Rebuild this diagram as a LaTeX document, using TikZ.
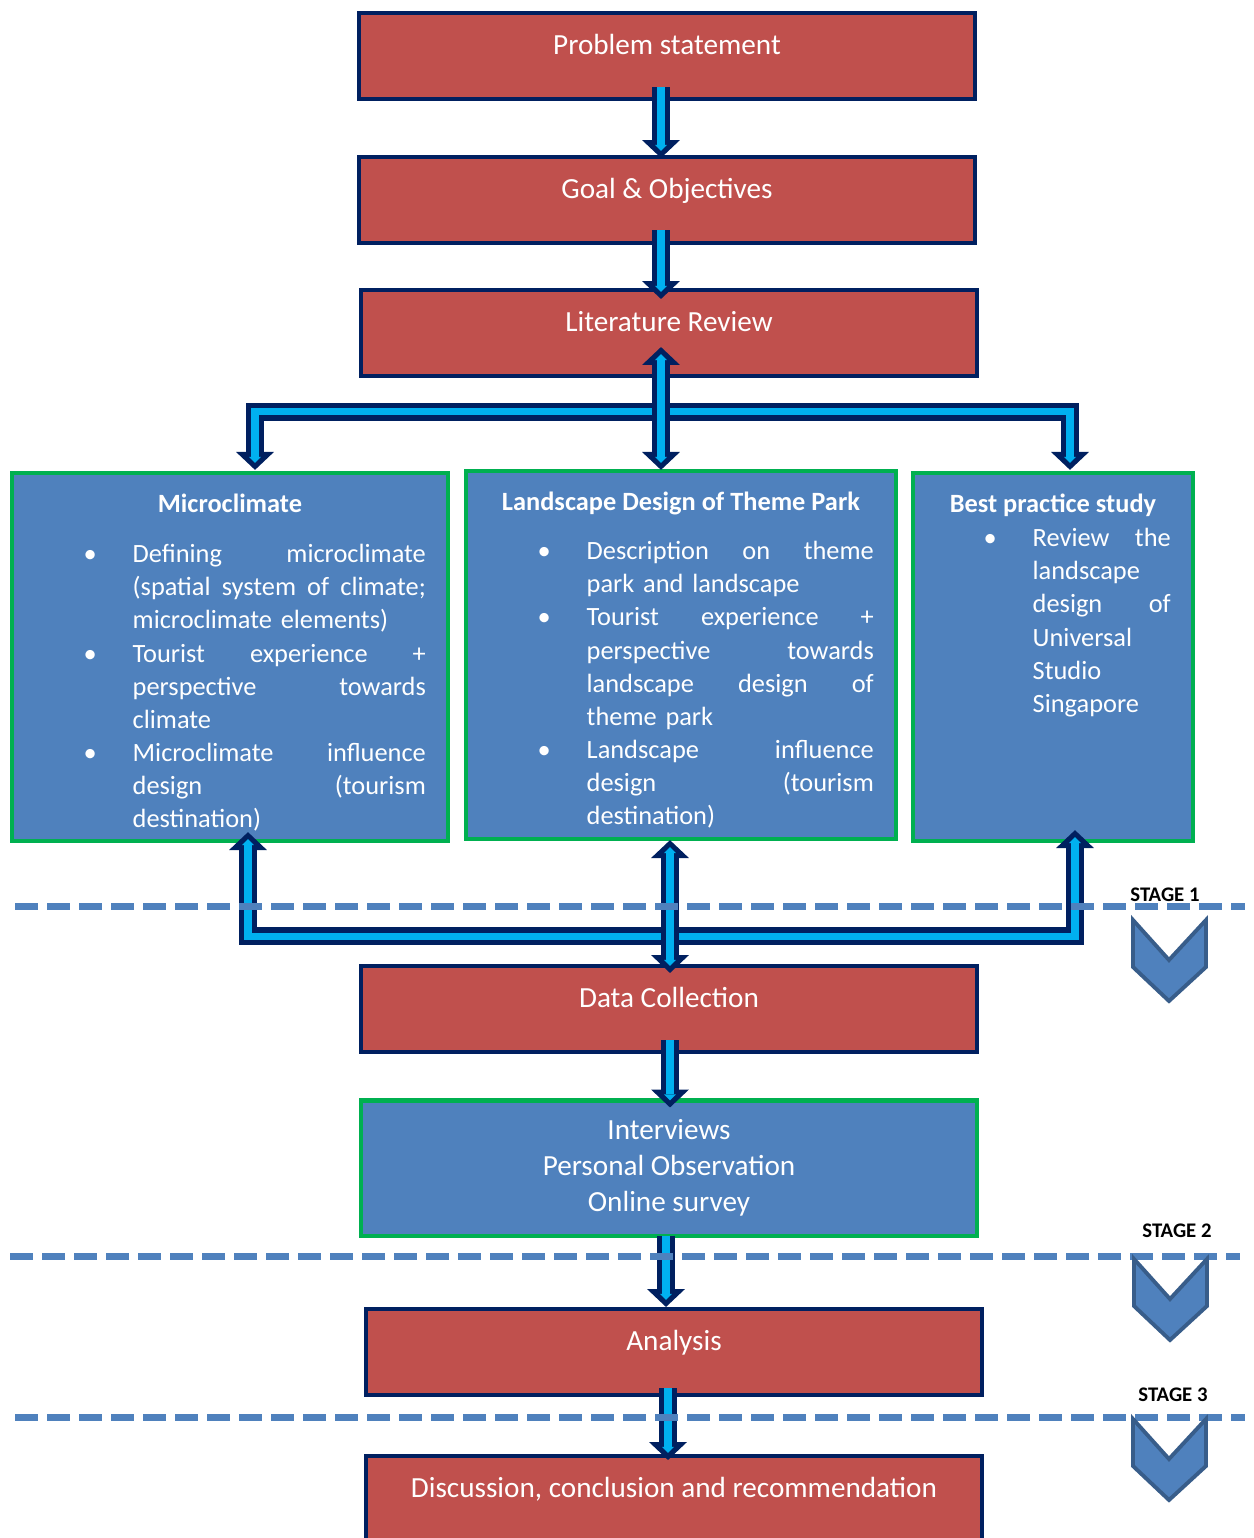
\documentclass[tikz,border=0pt]{standalone}
\usepackage{fontspec}
\setmainfont{Carlito}
\usetikzlibrary{arrows.meta, calc}
\definecolor{boxred}{HTML}{C0504D}
\definecolor{navy}{HTML}{002060}
\definecolor{boxblue}{HTML}{4F81BD}
\definecolor{edgegreen}{HTML}{00B050}
\definecolor{pipecyan}{HTML}{00B0F0}
\definecolor{chevedge}{HTML}{385D8A}

% justified line and hanging bullet
\newlength{\colw}
\newcommand{\jl}[1]{{\spaceskip=0.23em plus 1fil\makebox[\colw][s]{#1}}}
\newcommand{\bl}{\leavevmode\llap{\textbullet\hspace{0.36cm}}}

\begin{document}
\begin{tikzpicture}[x=0.01cm, y=-0.01cm,
  redbox/.style={draw=navy, line width=1.15pt, fill=boxred, minimum width=6.16cm,
                 minimum height=0.86cm, text=white, font=\fontsize{8.3}{10.2}\selectfont,
                 text height=0.2cm, text depth=0.24cm},
  bluebox/.style={draw=edgegreen, line width=1.15pt, fill=boxblue, minimum height=3.68cm},
  ttl/.style={text=white, font=\fontsize{7.5}{9.4}\selectfont\bfseries, inner sep=0pt, anchor=base},
  lst/.style={text=white, font=\fontsize{7.5}{9.4}\selectfont, align=left, inner sep=0pt,
              anchor=north west, text width=\colw},
  tipo/.tip={Triangle[width=10.8pt, length=5.1pt, line width=0pt]},
  tipi/.tip={Triangle[width=3.4pt, length=1.7pt, line width=0pt]},
  pipe/.style={draw=pipecyan, line width=2pt, line join=miter, shorten >=2pt, -tipi,
               preaction={draw=navy, line width=5.2pt, line join=miter, shorten >=0pt, -tipo}},
  pipes/.style={draw=pipecyan, line width=2pt, line join=miter, shorten >=2pt,
                shorten <=2pt, tipi-tipi,
                preaction={draw=navy, line width=5.2pt, line join=miter, shorten >=0pt,
                           shorten <=0pt, tipo-tipo}},
  stageline/.style={draw=boxblue, line width=2pt, dash pattern=on 6.5pt off 2.6pt},
  stg/.style={font=\fontsize{5.9}{7}\selectfont\bfseries, inner sep=0pt},
  chev/.style={fill=boxblue, draw=chevedge, line width=1.1pt, line join=miter}
]
\useasboundingbox (0,0) rectangle (1253,1538);
\clip (0,0) rectangle (1253,1538);

% main chain
\node[redbox] (ps) at (667,56)   {Problem statement};
\node[redbox] (go) at (667,200)  {Goal \& Objectives};
\node[redbox] (lr) at (669,333)  {Literature Review};

% three study boxes
\node[bluebox, minimum width=4.36cm] (mc) at (230,657) {};
\node[bluebox, minimum width=4.30cm] (ld) at (681,655) {};
\node[bluebox, minimum width=2.80cm] (bp) at (1053,657) {};

\node[ttl] (mct) at (230,512) {Microclimate};
\node[ttl] (ldt) at (681,510) {Landscape Design of Theme Park};
\node[ttl] (bpt) at (1053,512) {Best practice study};

\setlength{\colw}{2.93cm}
\node[lst] (mcl) at (132,539) {%
  \bl\jl{\strut Defining microclimate}\\
  \jl{(spatial system of climate;}\\
  microclimate elements)\\
  \bl\jl{Tourist experience +}\\
  \jl{perspective towards}\\
  climate\\
  \bl\jl{Microclimate influence}\\
  \jl{design (tourism}\\
  destination)};
\setlength{\colw}{2.87cm}
\node[lst] (ldl) at (586,536) {%
  \bl\jl{\strut Description on theme}\\
  park and landscape\\
  \bl\jl{Tourist experience +}\\
  \jl{perspective towards}\\
  \jl{landscape design of}\\
  theme park\\
  \bl\jl{Landscape influence}\\
  \jl{design (tourism}\\
  destination)};
\setlength{\colw}{1.38cm}
\node[lst] (bpl) at (1032,523) {%
  \bl\jl{\strut Review the}\\
  landscape\\
  \jl{design of}\\
  Universal\\
  Studio\\
  Singapore};

% lower chain
\node[redbox] (dc) at (669,1009) {Data Collection};
\node[bluebox, minimum width=6.16cm, minimum height=1.35cm, text=white, align=center,
      font=\fontsize{8.3}{10.2}\selectfont] (iv) at (669,1168)
      {Interviews\\Personal Observation\\Online survey};
\node[redbox] (an) at (674,1352) {Analysis};
\node[redbox] (dr) at (674,1499) {Discussion, conclusion and recommendation};

% connectors (branches first, verticals over them)
\draw[pipes] ($(mc.north)+(25,-1)$) |- ($(bp.north)+(17,-59)$) -- ($(bp.north)+(17,-1)$);
\draw[pipes] ($(mc.south)+(18,-11)$) |- ($(bp.south)+(22,93)$) -- ($(bp.south)+(22,-13)$);
\draw[pipe] ($(ps.south)+(-6,-14)$) -- ($(go.north)+(-6,3)$);
\draw[pipe] ($(go.south)+(-6,-15)$) -- ($(lr.north)+(-8,11)$);
\draw[pipes] ($(lr.south)+(-8,-31)$) -- ($(ld.north)+(-20,1)$);
\draw[pipes] ($(ld.south)+(-11,-1)$) -- ($(dc.north)+(1,9)$);
\draw[pipe] ($(dc.south)+(1,-14)$) -- ($(iv.north)+(1,9)$);
\draw[pipe] ($(iv.south)+(-3,-2)$) -- ($(an.north)+(-8,0)$);
\draw[pipe] ($(an.south)+(-6,-9)$) -- ($(dr.north)+(-6,6)$);

% stage separators
\draw[stageline] (15,906) -- (1245,906);
\draw[stageline] (10,1256) -- (1240,1256);
\draw[stageline] (15,1417) -- (1245,1417);

\node[stg] (s1) at (1165,895)  {STAGE 1};
\node[stg] (s2) at (1177,1231) {STAGE 2};
\node[stg] (s3) at (1173,1395) {STAGE 3};

\foreach \sx/\sy in {1133/920, 1134/1259, 1133/1419}
  \draw[chev] (\sx,\sy) -- ++(36,40) -- ++(37,-40) -- ++(0,47) -- ++(-37,34)
              -- ++(-36,-34) -- cycle;
\end{tikzpicture}
\end{document}
